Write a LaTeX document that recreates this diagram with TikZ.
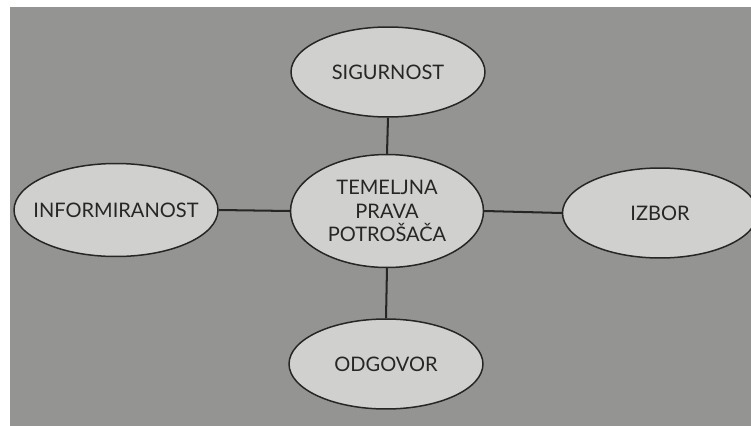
\documentclass[tikz,border=0pt]{standalone}
\usepackage{fontspec}
\setmainfont{Lato}
\usepackage{tikz}
\usetikzlibrary{shapes.geometric}
\definecolor{paper}{RGB}{148, 148, 146}
\definecolor{bubble}{RGB}{208, 208, 206}
\definecolor{ink}{RGB}{38, 38, 38}
\tikzset{
    pravo/.style={ellipse, draw=ink, fill=bubble, line width=0.85pt, inner sep=0pt,
                  text=ink, align=center, font=\fontsize{11.4}{13.6}\selectfont},
    veza/.style={ink, line width=1.15pt}
}
\begin{document}
\begin{tikzpicture}[x=0.02cm, y=-0.02cm]
            \useasboundingbox (0,0) rectangle (751,426);
            \fill[paper]                                                  (10,7) rectangle (751,426);
            \node[pravo, minimum width=3.86cm, minimum height=2.26cm] (temelj) at (387,211) {TEMELJNA\\PRAVA\\POTROŠAČA};
            \node[pravo, minimum width=3.88cm, minimum height=1.80cm] (sigurnost) at (388,72) {SIGURNOST};
            \node[pravo, minimum width=4.08cm, minimum height=1.86cm] (informiranost) at (116,210) {\makebox[0pt]{INFORMIRANOST}};
            \node[pravo, minimum width=3.90cm, minimum height=1.80cm] (izbor) at (660,213) {IZBOR};
            \node[pravo, minimum width=3.88cm, minimum height=1.80cm] (odgovor) at (386,364) {ODGOVOR};
            \draw[veza] (sigurnost.south) -- (temelj.north);
            \draw[veza] (temelj.south) -- (odgovor.north);
            \draw[veza] (informiranost.east) -- (temelj.west);
            \draw[veza] (temelj.east) -- (izbor.west);
        \end{tikzpicture}
\end{document}
